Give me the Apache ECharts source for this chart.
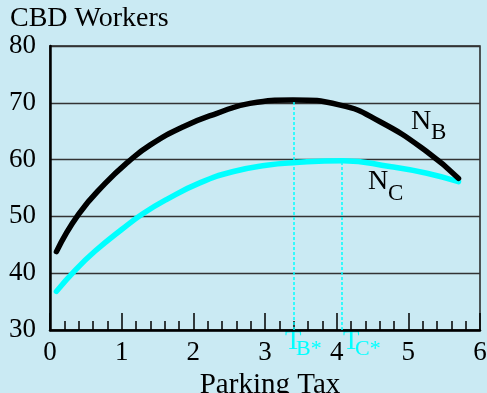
<!DOCTYPE html>
<html>
<head>
<meta charset="utf-8">
<script src="https://cdn.jsdelivr.net/npm/echarts@6/dist/echarts.min.js"></script>
<style>
  html, body { margin: 0; padding: 0; background: #caeaf3; }
  #main { width: 487px; height: 393px; }
</style>
</head>
<body>
<div id="main"></div>
<script>
// N_B curve: parking tax (x) and CBD workers (y)
var nbTax = [0.09, 0.4, 0.77, 1.09, 1.4, 1.86, 2.33, 2.79, 3.39, 4.05, 4.6, 5.26, 5.7];
var nbWorkers = [43.8, 50.4, 55.8, 59.6, 62.6, 65.8, 68.15, 69.9, 70.5, 69.6, 66.7, 61.4, 56.7];

// N_C curve
var ncTax = [0.09, 0.35, 0.63, 1.0, 1.3, 1.63, 2.09, 2.56, 3.02, 3.39, 4.09, 4.74, 5.26, 5.7];
var ncWorkers = [36.8, 40.5, 43.9, 47.7, 50.5, 53.0, 55.9, 57.9, 59.0, 59.45, 59.8, 58.8, 57.6, 56.1];

// optimal taxes and the peak they reach
var tStarX = [3.4, 4.07];
var tStarPeak = [70.5, 59.8];

var serif = '"Liberation Serif", "DejaVu Serif", serif';
var cyan = '#00ffff';

function pairs(xs, ys) {
    return xs.map(function (x, i) { return [x, ys[i]]; });
}

function dropLine(i) {
    return [{ coord: [tStarX[i], 30] }, { coord: [tStarX[i], tStarPeak[i]] }];
}

var option = {
    backgroundColor: '#caeaf3',
    animation: false,
    grid: {
        show: true,
        left: 50,
        right: 7,
        top: 46,
        bottom: 63,
        outerBoundsMode: 'none',
        borderColor: '#222',
        borderWidth: 1.5,
        backgroundColor: 'transparent'
    },
    xAxis: {
        type: 'value',
        min: 0,
        max: 6,
        interval: 1,
        axisLine: { show: true, onZero: false, lineStyle: { color: '#000', width: 2.5 } },
        axisTick: { show: true, inside: true, length: 17, lineStyle: { color: '#000', width: 1.5 } },
        minorTick: { show: true, splitNumber: 5, length: 9, lineStyle: { color: '#000', width: 1.5 } },
        splitLine: { show: false },
        axisLabel: { color: '#000', fontFamily: serif, fontSize: 27, margin: 9 },
        name: 'Parking Tax',
        nameLocation: 'middle',
        nameGap: 41,
        nameTextStyle: { color: '#000', fontFamily: serif, fontSize: 29, padding: [0, 0, 0, 10] }
    },
    yAxis: {
        type: 'value',
        min: 30,
        max: 80,
        interval: 10,
        axisLine: { show: true, lineStyle: { color: '#000', width: 2.5 } },
        axisTick: { show: false },
        splitLine: { show: true, lineStyle: { color: '#333', width: 1.3 } },
        axisLabel: { color: '#000', fontFamily: serif, fontSize: 27, margin: 14 },
        name: 'CBD Workers',
        nameLocation: 'end',
        nameGap: 12,
        nameTextStyle: { color: '#000', fontFamily: serif, fontSize: 28, align: 'left', padding: [0, 0, 0, -40] }
    },
    series: [{
        name: 'NC',
        type: 'line',
        smooth: true,
        symbol: 'none',
        lineStyle: { color: cyan, width: 5.5, cap: 'round' },
        data: pairs(ncTax, ncWorkers),
        markLine: {
            silent: true,
            symbol: 'none',
            label: { show: false },
            lineStyle: { color: cyan, width: 1.5, type: [3, 2], opacity: 1 },
            data: [dropLine(0), dropLine(1)]
        }
    }, {
        name: 'NB',
        type: 'line',
        smooth: true,
        symbol: 'none',
        lineStyle: { color: '#000', width: 5.5, cap: 'round' },
        data: pairs(nbTax, nbWorkers)
    }],
    graphic: [
        { type: 'text', left: 411, top: 108, style: { text: 'N', font: '28px ' + serif, fill: '#000' } },
        { type: 'text', left: 431, top: 121, style: { text: 'B', font: '23px ' + serif, fill: '#000' } },
        { type: 'text', left: 368, top: 168, style: { text: 'N', font: '28px ' + serif, fill: '#000' } },
        { type: 'text', left: 388, top: 182, style: { text: 'C', font: '23px ' + serif, fill: '#000' } },
        { type: 'text', left: 285, top: 328, style: { text: 'T', font: '27px ' + serif, fill: cyan } },
        { type: 'text', left: 296, top: 338, style: { text: 'B*', font: '22px ' + serif, fill: cyan } },
        { type: 'text', left: 343, top: 328, style: { text: 'T', font: '27px ' + serif, fill: cyan } },
        { type: 'text', left: 355, top: 338, style: { text: 'C*', font: '22px ' + serif, fill: cyan } }
    ]
};

var myChart = echarts.init(document.getElementById('main'));
myChart.setOption(option);
</script>
</body>
</html>
